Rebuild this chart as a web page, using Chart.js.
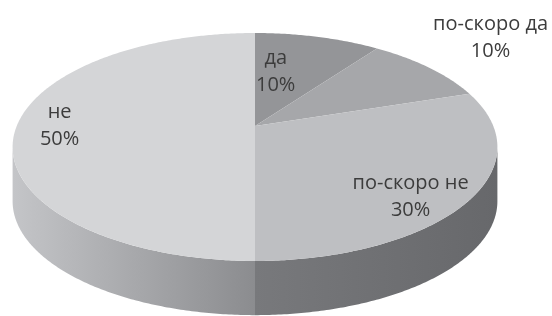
<!DOCTYPE html>
<html>
<head>
<meta charset="utf-8">
<title>Отговори</title>
<script src="https://cdn.jsdelivr.net/npm/chart.js@4.4.1/dist/chart.umd.min.js"></script>
<style>
  html, body { margin: 0; padding: 0; background: #fff; }
</style>
</head>
<body>
<canvas id="chart" width="552" height="316"></canvas>
<script>
'use strict';

// answers and their shares (%)
const answers = ['да', 'по-скоро да', 'по-скоро не', 'не'];
const shares = [10, 10, 30, 50];

// colours of the top face and the (left, right) shade of the side wall
const topColors = ['#949598', '#a6a7aa', '#bebfc2', '#d4d5d7'];
const sideShades = [['#78797c', '#6c6d70'], ['#78797c', '#6c6d70'], ['#78797c', '#67686b'], ['#c4c5c8', '#8b8c8f']];

// where each label sits on the pie plane: radius factor and a turn in degrees
const labelSpots = [{ r: 0.55, turn: -8 }, { r: 1.6, turn: 0 }, { r: 0.82, turn: 8.6 }, { r: 0.82, turn: 0 }];

/**
 * @brief projects a point of the tilted pie plane onto the canvas (simple perspective)
 */
function project(arc, o, r, a, drop) {
    const R = arc.outerRadius;
    const X = r * Math.cos(a);
    const Y = r * Math.sin(a);
    const w = 1 - o.tilt * Y;
    return {
        x: arc.x + o.stretchX * R * X / w,
        y: arc.y + o.stretchY * R * Y / w + (drop || 0)
    };
}

const pie3d = {
    id: 'pie3d',
    beforeDatasetsDraw(chart, args, o) {
        const ctx = chart.ctx;
        const arcs = chart.getDatasetMeta(0).data;
        const depth = o.depth * arcs[0].outerRadius;
        const lim = Math.asin(o.tilt);
        const step = 0.01;

        // side walls, only the front half is visible
        arcs.forEach((arc, i) => {
            const from = Math.max(arc.startAngle, lim);
            const to = Math.min(arc.endAngle, Math.PI - lim);
            if (to <= from) return;
            const n = Math.max(2, Math.ceil((to - from) / step));
            const pts = [];
            for (let k = 0; k <= n; k++) {
                pts.push(project(arc, o, 1, from + (to - from) * k / n, 0));
            }
            const xs = pts.map(p => p.x);
            const grad = ctx.createLinearGradient(Math.min(...xs), 0, Math.max(...xs), 0);
            grad.addColorStop(0, sideShades[i][0]);
            grad.addColorStop(1, sideShades[i][1]);
            ctx.beginPath();
            pts.forEach((p, k) => k ? ctx.lineTo(p.x, p.y) : ctx.moveTo(p.x, p.y));
            for (let k = pts.length - 1; k >= 0; k--) {
                ctx.lineTo(pts[k].x, pts[k].y + depth);
            }
            ctx.closePath();
            ctx.fillStyle = grad;
            ctx.fill();
        });

        // top face
        arcs.forEach((arc) => {
            const c = project(arc, o, 0, 0, 0);
            const n = Math.max(2, Math.ceil((arc.endAngle - arc.startAngle) / step));
            ctx.beginPath();
            ctx.moveTo(c.x, c.y);
            for (let k = 0; k <= n; k++) {
                const p = project(arc, o, 1, arc.startAngle + (arc.endAngle - arc.startAngle) * k / n, 0);
                ctx.lineTo(p.x, p.y);
            }
            ctx.closePath();
            ctx.fillStyle = arc.options.backgroundColor;
            ctx.fill();
        });

        // labels: name and percent
        const total = shares.reduce((s, v) => s + v, 0);
        ctx.font = o.font;
        ctx.fillStyle = o.textColor;
        ctx.textAlign = 'center';
        ctx.textBaseline = 'middle';
        arcs.forEach((arc, i) => {
            const spot = labelSpots[i];
            const mid = (arc.startAngle + arc.endAngle) / 2 + spot.turn * Math.PI / 180;
            const p = project(arc, o, spot.r, mid, 0);
            const lines = [answers[i], Math.round(shares[i] / total * 100) + '%'];
            const half = Math.max(...lines.map(t => ctx.measureText(t).width)) / 2;
            const x = Math.max(half + o.edge, Math.min(p.x, chart.width - o.edge - half));
            ctx.fillText(lines[0], x, p.y - o.lineGap / 2);
            ctx.fillText(lines[1], x, p.y + o.lineGap / 2);
        });
        return false;
    }
};

function makeChart() {
    new Chart(document.getElementById('chart'), {
        type: 'pie',
        data: {
            labels: answers,
            datasets: [{
                data: shares,
                backgroundColor: topColors,
                borderWidth: 0
            }]
        },
        options: {
            responsive: false,
            animation: false,
            events: [],
            layout: { padding: { left: 0, right: 42, top: 0, bottom: 64 } },
            plugins: {
                legend: { display: false },
                tooltip: { enabled: false },
                pie3d: {
                    tilt: 0.184,
                    stretchX: 1.891,
                    stretchY: 0.874,
                    depth: 0.43,
                    font: '20px "Open Sans"',
                    textColor: '#3c3c3c',
                    lineGap: 27,
                    edge: 4
                }
            }
        },
        plugins: [pie3d]
    });
}

document.fonts.load('20px "Open Sans"').then(makeChart, makeChart);
</script>
</body>
</html>
